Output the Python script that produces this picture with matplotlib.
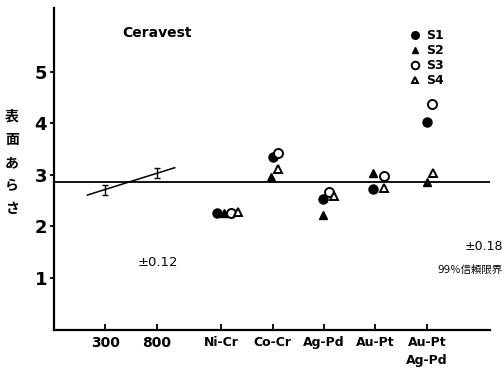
import matplotlib
matplotlib.use("Agg")
import matplotlib.pyplot as plt
from matplotlib.lines import Line2D

# Casting temperature trend (Ceravest)
temp_labels = ["300", "800"]
temp_means = [2.71, 3.04]
temp_err = [0.10, 0.10]
trend_x = [0.65, 2.35]
trend_y = [2.61, 3.14]

# Surface roughness by alloy, four specimens each
alloys = ["Ni-Cr", "Co-Cr", "Ag-Pd", "Au-Pt", "Au-Pt\nAg-Pd"]
s1 = [2.26, 3.35, 2.53, 2.72, 4.03]
s2 = [2.26, 2.96, 2.22, 3.03, 2.87]
s3 = [2.26, 3.42, 2.67, 2.98, 4.37]
s4 = [2.28, 3.11, 2.59, 2.75, 3.03]
series_labels = ["S1", "S2", "S3", "S4"]

mean_level = 2.87
ci_low = "±0.12"
ci_high = "±0.18"
ci_note = "99％信頼限界"
y_title = "表面あらさ"

plt.rcParams["font.family"] = ["DejaVu Sans", "Noto Sans CJK JP"]

fig = plt.figure(figsize=(5.04, 3.69), dpi=100)
ax = fig.add_axes([54 / 504, 1 - 329.5 / 369, (490 - 54) / 504, (329.5 - 8) / 369])

ax.set_xlim(0, 8.49)
ax.set_ylim(0, 6.24)

# temperature positions, then alloy groups
temp_pos = [1, 2]
alloy_pos = [3.26 + i for i in range(len(alloys))]

# small horizontal spread of specimens inside a group
spread = [
    [-0.08, 0.06, 0.19, 0.33],
    [0.0, -0.03, 0.10, 0.10],
    [-0.02, -0.02, 0.10, 0.19],
    [-0.04, -0.04, 0.16, 0.16],
    [0.0, 0.0, 0.10, 0.12],
]

ax.axhline(mean_level, color="black", lw=1.3, zorder=1)
ax.plot(trend_x, trend_y, color="black", lw=1.1)
ax.errorbar(temp_pos, temp_means, yerr=temp_err, fmt="none", ecolor="black",
            elinewidth=1.0, capsize=2.5, capthick=1.0)

styles = [
    dict(marker="o", mfc="black", mec="black", ms=6.5),
    dict(marker="^", mfc="black", mec="black", ms=6),
    dict(marker="o", mfc="white", mec="black", ms=6.5, mew=1.4),
    dict(marker="^", mfc="white", mec="black", ms=6, mew=1.4),
]
for k, vals in enumerate([s1, s2, s3, s4]):
    xs = [alloy_pos[i] + spread[i][k] for i in range(len(alloys))]
    ax.plot(xs, vals, ls="none", zorder=3, **styles[k])

for side in ["top", "right"]:
    ax.spines[side].set_visible(False)
for side in ["left", "bottom"]:
    ax.spines[side].set_linewidth(1.6)

ax.set_yticks([1, 2, 3, 4, 5])
ax.set_yticklabels(["1", "2", "3", "4", "5"], fontsize=13, fontweight="bold")
ax.tick_params(axis="y", direction="out", length=3, width=1.3, pad=2)

ax.set_xticks(temp_pos + alloy_pos)
ax.set_xticklabels(temp_labels + alloys, fontsize=9, fontweight="bold",
                   linespacing=1.5, va="top")
ax.tick_params(axis="x", direction="in", length=4, width=1.3, pad=5)
for lab in ax.get_xticklabels()[:2]:
    lab.set_fontsize(10)

ax.text(157 / 504, 1 - 33 / 369, "Ceravest", transform=fig.transFigure,
        ha="center", va="center", fontsize=10, fontweight="bold")

# vertical stacked axis title
for i, ch in enumerate(y_title):
    fig.text(12 / 504, 1 - (117 + 23 * i) / 369, ch, ha="center", va="center",
             fontsize=10, fontweight="bold", family="Noto Sans CJK JP")

fig.text(138 / 504, 1 - 263 / 369, ci_low, ha="left", va="center", fontsize=9.5)
fig.text(503 / 504, 1 - 247 / 369, ci_high, ha="right", va="center", fontsize=9)
fig.text(503 / 504, 1 - 270 / 369, ci_note, ha="right", va="center", fontsize=7.5,
         family=["DejaVu Sans", "Noto Sans CJK JP"])

handles = [Line2D([], [], ls="none", **dict(styles[k], ms=styles[k]["ms"] - 1))
           for k in range(4)]
fig.legend(handles, series_labels, loc="upper left",
           bbox_to_anchor=(404 / 504, 1 - 23 / 369), frameon=False,
           handlelength=0.8, handletextpad=0.5, labelspacing=0.15,
           prop=dict(size=9, weight="bold"), borderpad=0)

fig.savefig("out.png", dpi=100)
